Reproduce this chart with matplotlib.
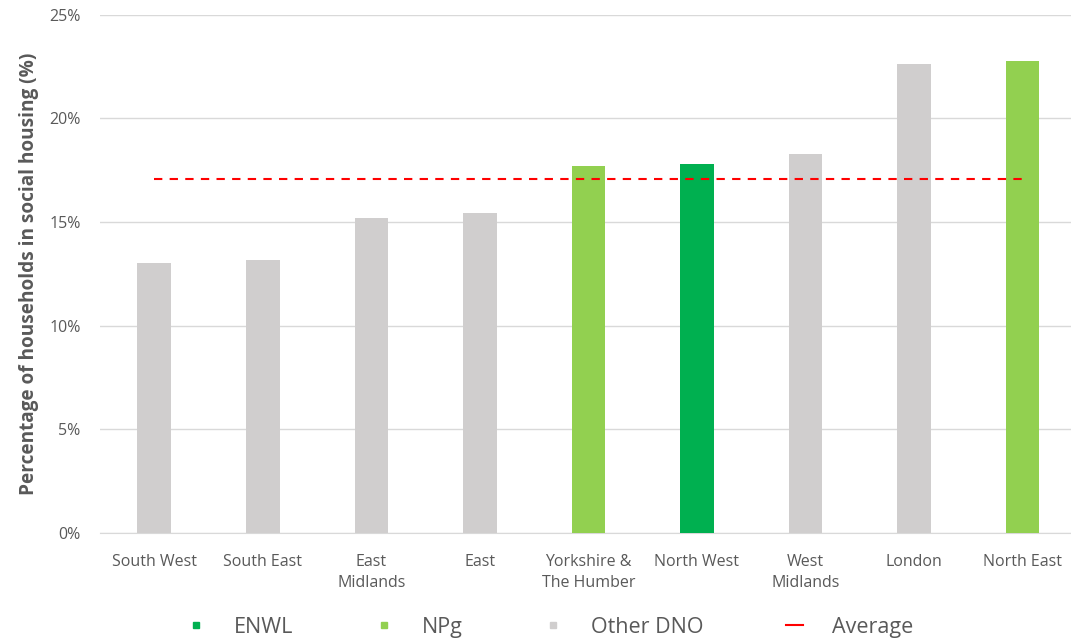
import matplotlib.pyplot as plt
from matplotlib.lines import Line2D
from matplotlib.ticker import FuncFormatter

plt.rcParams['font.family'] = ['Open Sans', 'DejaVu Sans']

# Share of households in social housing by DNO region (%)
regions = ['South West', 'South East', 'East\nMidlands', 'East', 'Yorkshire &\nThe Humber',
           'North West', 'West\nMidlands', 'London', 'North East']
social_pct = [13.05, 13.15, 15.2, 15.45, 17.7, 17.8, 18.3, 22.6, 22.75]
operator = ['Other DNO', 'Other DNO', 'Other DNO', 'Other DNO', 'NPg',
            'ENWL', 'Other DNO', 'Other DNO', 'NPg']
average_pct = 17.1

colours = {'ENWL': '#00b050', 'NPg': '#92d050', 'Other DNO': '#d0cece'}
text_grey = '#595959'

fig = plt.figure(figsize=(10.71, 6.4), dpi=100)
ax = fig.add_axes([0.0934, 0.167, 0.912, 0.81])

x = list(range(len(regions)))
ax.bar(x, social_pct, width=0.31, color=[colours[o] for o in operator], zorder=3)
ax.plot(x, [average_pct] * len(x), color='#ff0000', linestyle=(0, (4, 3.5)), linewidth=1.5, zorder=4)

ax.set_xlim(-0.5, len(regions) - 0.5)
ax.set_ylim(0, 25)
ax.set_yticks([0, 5, 10, 15, 20, 25])
ax.yaxis.set_major_formatter(FuncFormatter(lambda v, p: f'{v:.0f}%'))
ax.set_xticks(x)
ax.set_xticklabels(regions, linespacing=1.43)
ax.grid(axis='y', color='#d9d9d9', linewidth=1, zorder=0)
for s in ['top', 'right', 'left']:
    ax.spines[s].set_visible(False)
ax.spines['bottom'].set_color('#d9d9d9')
ax.tick_params(axis='both', length=0, colors=text_grey, labelsize=11.5)
ax.tick_params(axis='y', pad=14)
ax.tick_params(axis='x', pad=15)
ax.set_ylabel('Percentage of households in social housing (%)', fontsize=13.7,
               fontweight='bold', color=text_grey, labelpad=7)

handles = [Line2D([], [], marker='s', linestyle='none', markersize=5, color=colours[k])
           for k in ['ENWL', 'NPg', 'Other DNO']]
handles.append(Line2D([], [], color='#ff0000', linewidth=1.5))
leg = fig.legend(handles, ['ENWL', 'NPg', 'Other DNO', 'Average'], loc='lower center',
                 bbox_to_anchor=(0.514, -0.027), ncol=4, frameon=False, fontsize=15.5,
                 handlelength=0.8, handletextpad=1.37, columnspacing=3.8)
for t in leg.get_texts():
    t.set_color(text_grey)

fig.savefig('out.png', dpi=100)
